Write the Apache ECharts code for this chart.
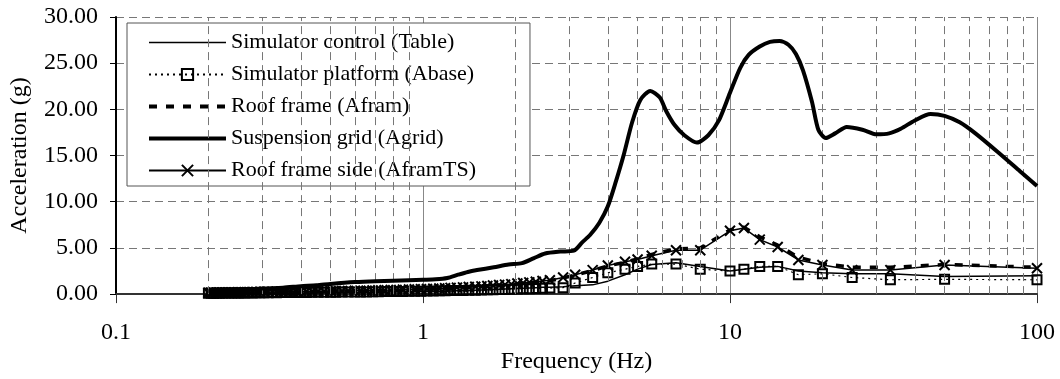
<!DOCTYPE html>
<html><head><meta charset="utf-8">
<script src="https://cdn.jsdelivr.net/npm/echarts@6/dist/echarts.min.js"></script>
<style>html,body{margin:0;padding:0;background:#fff}#c{width:1060px;height:379px}</style>
</head><body><div id="c"></div>
<script>
const seriesNames = ['Simulator control (Table)', 'Simulator platform (Abase)', 'Roof frame (Afram)', 'Suspension grid (Agrid)', 'Roof frame side (AframTS)'];

const freq = [0.20,0.204,0.208,0.213,0.217,0.222,0.227,0.233,0.238,0.244,0.25,0.256,0.263,0.27,0.278,0.286,0.294,0.303,0.313,0.323,0.333,0.345,0.357,0.37,0.385,0.4,0.417,0.435,0.455,0.476,
  0.5,0.52,0.545,0.57,0.6,0.625,0.655,0.685,0.715,0.75,0.785,0.82,0.86,0.9,0.94,0.985,1.03,1.08,1.13,1.18,1.23,1.29,1.35,1.41,1.48,1.55,1.62,1.69,1.77,1.85,1.94,2.03,2.12,2.22,2.33,2.45,
  2.59,2.86,3.13,3.57,4.0,4.55,5.0,5.56,6.67,8.0,10,11.1,12.5,14.3,16.7,20,25,33.3,50,100];

const table = [0.05,0.05,0.05,0.05,0.06,0.06,0.06,0.06,0.07,0.07,0.07,0.07,0.08,0.08,0.08,0.09,0.09,0.09,0.1,0.1,0.1,0.11,0.11,0.12,0.12,0.13,0.13,0.14,0.14,0.15,
  0.15,0.16,0.16,0.17,0.18,0.18,0.19,0.2,0.2,0.21,0.22,0.23,0.24,0.25,0.26,0.27,0.28,0.29,0.31,0.32,0.34,0.36,0.38,0.4,0.42,0.44,0.46,0.49,0.52,0.55,0.58,0.61,0.64,0.67,0.7,0.73,
  0.75,0.8,0.9,1.0,1.4,2.1,2.7,3.2,3.4,3.0,2.5,2.7,2.9,3.0,2.5,2.3,2.2,2.2,1.9,2.0];

const abase = [0.1,0.1,0.1,0.11,0.1,0.11,0.12,0.11,0.12,0.12,0.13,0.12,0.13,0.14,0.13,0.14,0.15,0.14,0.15,0.16,0.15,0.16,0.17,0.16,0.17,0.18,0.18,0.19,0.19,0.2,
  0.21,0.21,0.22,0.22,0.23,0.24,0.24,0.25,0.26,0.27,0.27,0.28,0.29,0.3,0.31,0.32,0.33,0.34,0.35,0.36,0.38,0.39,0.4,0.42,0.43,0.45,0.46,0.48,0.5,0.51,0.53,0.55,0.57,0.59,0.61,0.63,
  0.65,0.7,1.2,1.8,2.3,2.7,3.0,3.25,3.25,2.7,2.5,2.7,3.0,3.0,2.1,2.2,1.8,1.55,1.6,1.55];

const afram = [0.12,0.12,0.13,0.13,0.14,0.14,0.15,0.15,0.16,0.16,0.17,0.17,0.18,0.18,0.19,0.19,0.2,0.2,0.21,0.21,0.22,0.22,0.23,0.23,0.24,0.25,0.25,0.26,0.27,0.28,
  0.29,0.3,0.31,0.32,0.33,0.34,0.35,0.36,0.38,0.39,0.41,0.42,0.44,0.46,0.48,0.5,0.52,0.54,0.57,0.6,0.63,0.66,0.69,0.72,0.76,0.8,0.84,0.88,0.93,0.98,1.03,1.09,1.15,1.22,1.29,1.37,
  1.45,1.75,2.05,2.55,3.05,3.45,3.8,4.3,4.9,5.0,6.95,7.25,6.2,5.3,4.0,3.3,2.9,2.9,3.2,2.9];

const aframTS = [0.15,0.15,0.16,0.16,0.17,0.17,0.18,0.18,0.19,0.19,0.2,0.2,0.21,0.21,0.22,0.22,0.23,0.23,0.24,0.24,0.25,0.25,0.26,0.26,0.27,0.28,0.28,0.29,0.3,0.31,
  0.32,0.33,0.34,0.35,0.36,0.37,0.38,0.4,0.41,0.43,0.44,0.46,0.48,0.5,0.52,0.54,0.56,0.58,0.61,0.64,0.67,0.7,0.73,0.77,0.8,0.84,0.88,0.93,0.98,1.03,1.08,1.14,1.2,1.27,1.34,1.42,
  1.5,1.8,2.1,2.6,3.1,3.5,3.75,4.15,4.75,4.75,6.85,7.15,5.9,5.1,3.7,3.15,2.6,2.6,3.15,2.8];

const gridFreq = [0.2,0.25,0.3,0.35,0.4,0.45,0.5,0.6,0.7,0.8,0.9,1.0,1.1,1.2,1.3,1.4,1.5,1.7,1.9,2.1,2.3,2.5,2.8,3.1,3.3,3.5,3.75,4.0,4.25,4.5,4.8,5.1,5.5,5.9,6.2,6.6,7.1,7.8,8.5,9.2,10,10.8,11.5,12.5,13.5,14.5,15.5,16.4,17.3,18.5,19.4,20.5,22,24,27,30,33,36,40,45,50,56,63,75,88,100];
const agrid = [0.3,0.45,0.6,0.7,0.85,0.95,1.1,1.3,1.4,1.45,1.5,1.55,1.6,1.75,2.1,2.4,2.6,2.9,3.2,3.35,3.9,4.4,4.6,4.7,5.6,6.4,7.7,9.5,12.2,15.0,18.6,21.0,22.0,21.3,19.8,18.3,17.2,16.4,17.2,18.8,21.8,24.5,25.9,26.8,27.3,27.4,27.0,26.0,24.2,20.8,17.8,16.9,17.4,18.1,17.8,17.3,17.4,17.9,18.8,19.5,19.3,18.6,17.4,15.3,13.3,11.7];

const minorFreq = [0.2,0.3,0.4,0.5,0.6,0.7,0.8,0.9,2,3,4,5,6,7,8,9,20,30,40,50,60,70,80,90];

const FONT = 'Liberation Serif';
const pair = (xs, ys) => xs.map((x, i) => [x, ys[i]]);
const crossPath = 'path://M0,0L10,10M10,0L0,10';
const noMarker = {opacity: 0};

const chart = echarts.init(document.getElementById('c'), null, {renderer: 'canvas'});
chart.setOption({
  animation: false,
  backgroundColor: '#fff',
  grid: {left: 116, right: 23, top: 17, bottom: 82},
  legend: {
    orient: 'vertical', left: 127, top: 23,
    padding: [8, 54, 4, 20],
    itemWidth: 77, itemHeight: 14, itemGap: 9,
    backgroundColor: '#fff', borderColor: '#555', borderWidth: 1,
    textStyle: {fontFamily: FONT, fontSize: 22, color: '#000', lineHeight: 23},
    data: [
      {name: seriesNames[0], itemStyle: noMarker, lineStyle: {width: 1.5, color: '#000', type: 'solid'}},
      {name: seriesNames[1]},
      {name: seriesNames[2], itemStyle: noMarker, lineStyle: {width: 4, color: '#000', type: [8, 9]}},
      {name: seriesNames[3], itemStyle: noMarker, lineStyle: {width: 4, color: '#000', type: 'solid'}},
      {name: seriesNames[4]}
    ]
  },
  xAxis: {
    type: 'log', logBase: 10, min: 0.1, max: 100,
    name: 'Frequency (Hz)', nameLocation: 'middle', nameGap: 52,
    nameTextStyle: {fontFamily: FONT, fontSize: 24, color: '#000'},
    axisLine: {lineStyle: {color: '#333', width: 2}},
    axisTick: {show: true, length: 9, lineStyle: {color: '#333', width: 1}},
    axisLabel: {fontFamily: FONT, fontSize: 24, color: '#000', margin: 27},
    splitLine: {show: true, lineStyle: {color: '#888', width: 1, type: 'solid'}},
    minorTick: {show: false}
  },
  yAxis: {
    type: 'value', min: 0, max: 30, interval: 5,
    name: 'Acceleration (g)', nameLocation: 'middle', nameGap: 84,
    nameTextStyle: {fontFamily: FONT, fontSize: 24, color: '#000'},
    axisLine: {show: true, lineStyle: {color: '#000', width: 2}},
    axisTick: {show: true, length: 6, lineStyle: {color: '#000', width: 1}},
    axisLabel: {fontFamily: FONT, fontSize: 24, color: '#000', margin: 18,
      formatter: v => v.toFixed(2)},
    splitLine: {show: true, lineStyle: {color: '#777', width: 1, type: [8, 5]}}
  },
  series: [
    {
      name: 'minor', type: 'line', data: [], z: 1, silent: true,
      markLine: {
        silent: true, symbol: 'none', label: {show: false},
        lineStyle: {color: '#777', width: 1, type: [8, 5]},
        emphasis: {disabled: true},
        data: minorFreq.map(f => ({xAxis: f}))
      }
    },
    {
      name: seriesNames[0], type: 'line', z: 3, data: pair(freq, table),
      symbol: 'none', lineStyle: {color: '#000', width: 1.5},
      itemStyle: {color: '#000'}
    },
    {
      name: seriesNames[1], type: 'line', z: 4, data: pair(freq, abase),
      symbol: 'rect', symbolSize: 9, showAllSymbol: true,
      lineStyle: {color: '#000', width: 1.2, type: [2, 4]},
      itemStyle: {color: 'transparent', borderColor: '#000', borderWidth: 2}
    },
    {
      name: seriesNames[2], type: 'line', z: 3, data: pair(freq, afram),
      symbol: 'none', lineStyle: {color: '#000', width: 3.5, type: [8, 9]},
      itemStyle: {color: '#000'}
    },
    {
      name: seriesNames[3], type: 'line', z: 5, data: pair(gridFreq, agrid),
      symbol: 'none', smooth: 0.25,
      lineStyle: {color: '#000', width: 4, join: 'round'},
      itemStyle: {color: '#000'}
    },
    {
      name: seriesNames[4], type: 'line', z: 4, data: pair(freq, aframTS),
      symbol: crossPath, symbolSize: 10, showAllSymbol: true,
      lineStyle: {color: '#000', width: 1.5},
      itemStyle: {color: 'transparent', borderColor: '#000', borderWidth: 2}
    }
  ]
});
</script></body></html>
